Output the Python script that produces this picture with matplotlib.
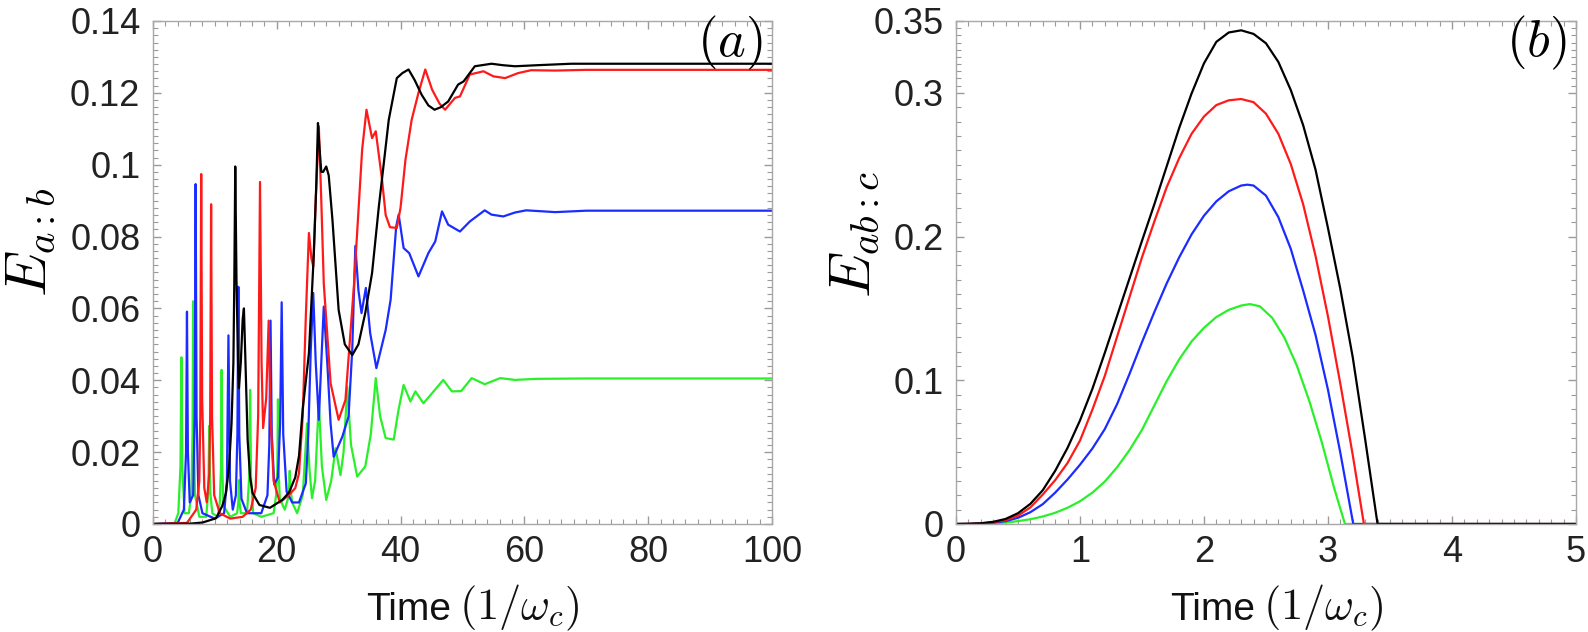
import numpy as np
import matplotlib
matplotlib.use("Agg")
import matplotlib.pyplot as plt
from matplotlib.ticker import FixedLocator, FuncFormatter

plt.rcParams['font.family'] = ['Liberation Sans', 'DejaVu Sans']
plt.rcParams['mathtext.fontset'] = 'cm'

# ---- panel (a): E_{a:b} vs time ----
green_t_a = [0, 3.5, 4.1, 4.45, 4.6, 4.75, 5.1, 5.8, 6.2, 6.4, 6.5, 6.6, 6.8, 7.5, 8.6, 8.95, 9.1, 9.25, 9.6,
             10.5, 10.8, 11.0, 11.1, 11.2, 11.4, 12.5, 13.6, 13.8, 13.9, 14.0, 14.2, 15.2, 15.55, 15.7, 15.85,
             16.2, 17.5, 19.5, 19.9, 20.1, 20.2, 20.3, 20.5, 21.3, 21.8, 22.0, 22.1, 22.2, 22.5, 23.3, 24.2,
             24.9, 25.3, 25.7, 26.2, 26.8, 27.3, 28.0, 28.8, 29.5, 30.3, 30.8, 31.4, 32.0, 33.0, 34.3, 35.2,
             36.0, 36.7, 37.6, 38.9, 39.7, 40.5, 41.6, 42.4, 43.7, 45.1, 46.9, 48.3, 49.8, 51.5, 53.6, 56.1,
             58.5, 62, 70, 100]
green_e_a = [0, 0.0002, 0.003, 0.016, 0.0464, 0.016, 0.003, 0.003, 0.008, 0.025, 0.062, 0.025, 0.008, 0.002,
             0.002, 0.009, 0.0273, 0.009, 0.003, 0.002, 0.006, 0.016, 0.0429, 0.016, 0.005, 0.002, 0.003,
             0.006, 0.0122, 0.006, 0.003, 0.003, 0.013, 0.0373, 0.013, 0.003, 0.002, 0.003, 0.008, 0.015,
             0.0347, 0.015, 0.007, 0.004, 0.007, 0.010, 0.0148, 0.010, 0.006, 0.003, 0.008, 0.028, 0.015,
             0.0072, 0.012, 0.0341, 0.016, 0.0067, 0.012, 0.0211, 0.0136, 0.020, 0.0382, 0.022, 0.0132,
             0.016, 0.025, 0.0406, 0.030, 0.0239, 0.0235, 0.032, 0.0387, 0.0341, 0.0369, 0.0336, 0.0364,
             0.0401, 0.0369, 0.0370, 0.0406, 0.0389, 0.0406, 0.0401, 0.0404, 0.0405, 0.0405]

blue_t_a = [0, 4.0, 5.0, 5.35, 5.5, 5.65, 5.95, 6.5, 6.75, 6.9, 7.05, 7.35, 8.0, 10.0, 11.5, 11.95, 12.2, 12.45,
            12.9, 13.4, 13.65, 13.8, 13.95, 14.3, 15.2, 17.5, 18.5, 18.8, 19.0, 19.2, 19.6, 20.2, 20.55, 20.8,
            21.05, 21.6, 22.5, 23.6, 24.7, 25.1, 25.5, 25.9, 26.3, 26.8, 27.2, 27.6, 28.2, 28.7, 29.2, 30.6,
            31.6, 32.2, 32.7, 33.2, 33.7, 34.4, 35.1, 36.1, 37.6, 38.4, 39.3, 39.7, 40.5, 41.4, 42.9, 44.5,
            45.6, 46.7, 47.7, 49.6, 51.2, 53.6, 54.7, 56.6, 58.5, 60.3, 65, 70, 100]
blue_e_a = [0, 0.0003, 0.004, 0.020, 0.0591, 0.020, 0.006, 0.008, 0.030, 0.0946, 0.030, 0.008, 0.003, 0.0015,
            0.003, 0.012, 0.0525, 0.012, 0.004, 0.008, 0.025, 0.066, 0.025, 0.007, 0.003, 0.003, 0.008, 0.022,
            0.0566, 0.025, 0.011, 0.013, 0.028, 0.0617, 0.025, 0.009, 0.006, 0.006, 0.0113, 0.025, 0.0485,
            0.0643, 0.045, 0.029, 0.045, 0.0605, 0.0438, 0.028, 0.0187, 0.0243, 0.0299, 0.0485, 0.0774, 0.065,
            0.0587, 0.0657, 0.0531, 0.0434, 0.054, 0.0624, 0.0828, 0.0861, 0.0768, 0.0754, 0.0689, 0.0754,
            0.0786, 0.087, 0.0833, 0.0814, 0.0842, 0.0873, 0.0861, 0.0856, 0.0867, 0.0873, 0.0868, 0.0872,
            0.0872]

red_t_a = [0, 5.5, 7.0, 7.5, 7.65, 7.8, 7.95, 8.3, 8.7, 9.1, 9.25, 9.4, 9.55, 9.9, 10.8, 12.5, 14.5, 15.8,
           16.6, 17.0, 17.3, 17.55, 17.8, 18.3, 18.7, 19.0, 19.5, 20.5, 22.0, 23.0, 23.6, 24.2, 24.7, 25.2,
           25.6, 25.9, 26.3, 26.8, 27.2, 27.6, 28.7, 30.0, 31.1, 32.5, 33.8, 34.5, 35.4, 36.0, 37.0, 37.6,
           38.3, 39.4, 40.0, 40.8, 41.8, 42.9, 44.0, 45.1, 46.3, 47.2, 48.8, 49.6, 51.2, 53.4, 55.0, 56.9,
           59.0, 61.1, 65, 70, 100]
red_e_a = [0, 0.0003, 0.004, 0.012, 0.030, 0.0974, 0.035, 0.010, 0.006, 0.014, 0.030, 0.089, 0.030, 0.008,
           0.003, 0.0015, 0.002, 0.004, 0.010, 0.030, 0.0952, 0.045, 0.0267, 0.035, 0.0566, 0.030, 0.012,
           0.006, 0.0081, 0.010, 0.0141, 0.030, 0.0577, 0.081, 0.074, 0.0717, 0.090, 0.1107, 0.090, 0.067,
           0.0392, 0.029, 0.0345, 0.067, 0.1042, 0.1153, 0.1074, 0.1093, 0.096, 0.086, 0.0826, 0.0824, 0.088,
           0.1014, 0.1125, 0.120, 0.1265, 0.1209, 0.117, 0.1153, 0.1186, 0.119, 0.1251, 0.126, 0.1246,
           0.1241, 0.1255, 0.1263, 0.1262, 0.1264, 0.1264]

black_t_a = [0, 6, 8, 10.2, 11.2, 11.8, 12.3, 12.7, 13.0, 13.15, 13.3, 13.5, 13.75, 13.9, 14.2, 14.5, 14.7,
             14.95, 15.3, 15.7, 16.1, 17.2, 18.9, 20.9, 22.0, 23.0, 23.6, 24.2, 25.2, 26.0, 26.4, 26.66, 26.9,
             27.2, 27.5, 28.0, 28.4, 29.0, 30.0, 31.0, 32.2, 33.2, 34.3, 35.4, 36.5, 38.1, 39.4, 40.3, 41.3,
             42.3, 43.4, 44.5, 45.5, 46.5, 47.7, 49.3, 50.2, 52.0, 54.7, 56.5, 58.5, 62.2, 67.6, 100]
black_e_a = [0, 0.0001, 0.0004, 0.0016, 0.005, 0.0086, 0.016, 0.028, 0.045, 0.068, 0.0995, 0.068, 0.045,
             0.0378, 0.045, 0.057, 0.060, 0.045, 0.0234, 0.013, 0.0086, 0.0053, 0.0045, 0.0067, 0.0088, 0.013,
             0.019, 0.032, 0.0475, 0.0754, 0.095, 0.1116, 0.105, 0.098, 0.098, 0.0995, 0.097, 0.0847, 0.0596,
             0.050, 0.047, 0.050, 0.0587, 0.0698, 0.0884, 0.1125, 0.1241, 0.1255, 0.1265, 0.1235, 0.1195,
             0.1165, 0.1153, 0.116, 0.1176, 0.1223, 0.1232, 0.1274, 0.1281, 0.1277, 0.1274, 0.1277, 0.1281,
             0.1281]

# ---- panel (b): E_{ab:c} vs time ----
green_t_b = [0, 0.2, 0.3, 0.4, 0.5, 0.6, 0.7, 0.8, 0.9, 1.0, 1.1, 1.2, 1.3, 1.4, 1.5, 1.6, 1.7, 1.8, 1.9,
             2.0, 2.1, 2.2, 2.3, 2.37, 2.45, 2.55, 2.65, 2.75, 2.85, 2.95, 3.05, 3.137, 5.0]
green_e_b = [0, 0.0001, 0.0004, 0.001, 0.002, 0.0033, 0.0052, 0.0078, 0.0113, 0.0158, 0.0218, 0.0295, 0.0395,
             0.0515, 0.0655, 0.0825, 0.0995, 0.1145, 0.127, 0.1365, 0.144, 0.149, 0.152, 0.153, 0.1515, 0.1435,
             0.1295, 0.110, 0.0855, 0.057, 0.025, 0, 0]

blue_t_b = [0, 0.1, 0.2, 0.3, 0.4, 0.5, 0.6, 0.7, 0.8, 0.9, 1.0, 1.1, 1.2, 1.3, 1.4, 1.5, 1.6, 1.7, 1.8,
            1.9, 2.0, 2.1, 2.2, 2.3, 2.35, 2.4, 2.5, 2.6, 2.7, 2.8, 2.9, 3.0, 3.1, 3.204, 5.0]
blue_e_b = [0, 0.0001, 0.0003, 0.0009, 0.002, 0.0043, 0.0082, 0.0138, 0.0218, 0.031, 0.0412, 0.0525, 0.066,
            0.0835, 0.1045, 0.1265, 0.1475, 0.1675, 0.1855, 0.2015, 0.2145, 0.2245, 0.2315, 0.2355, 0.2361,
            0.2355, 0.2285, 0.2135, 0.1915, 0.1625, 0.1315, 0.0935, 0.0495, 0, 0]

red_t_b = [0, 0.1, 0.2, 0.3, 0.4, 0.5, 0.6, 0.7, 0.8, 0.9, 1.0, 1.1, 1.2, 1.3, 1.4, 1.5, 1.6, 1.7, 1.8,
           1.9, 2.0, 2.1, 2.2, 2.3, 2.4, 2.5, 2.6, 2.7, 2.8, 2.9, 3.0, 3.1, 3.2, 3.29, 5.0]
red_e_b = [0, 0.0001, 0.0004, 0.0012, 0.0027, 0.0058, 0.0115, 0.0205, 0.0305, 0.0425, 0.058, 0.0795, 0.103,
           0.1305, 0.158, 0.1855, 0.2105, 0.2345, 0.2545, 0.2715, 0.2835, 0.2915, 0.2948, 0.2957, 0.2935,
           0.2855, 0.2715, 0.2505, 0.2225, 0.1865, 0.1445, 0.0975, 0.048, 0, 0]

black_t_b = [0, 0.1, 0.2, 0.3, 0.4, 0.5, 0.6, 0.7, 0.8, 0.9, 1.0, 1.1, 1.2, 1.3, 1.4, 1.5, 1.6, 1.7, 1.8,
             1.9, 2.0, 2.1, 2.2, 2.3, 2.4, 2.5, 2.6, 2.7, 2.8, 2.9, 3.0, 3.1, 3.2, 3.3, 3.4, 5.0]
black_e_b = [0, 0.0001, 0.0005, 0.0015, 0.0035, 0.0075, 0.014, 0.0235, 0.037, 0.053, 0.072, 0.094, 0.119,
             0.145, 0.171, 0.197, 0.2225, 0.249, 0.2755, 0.2995, 0.3205, 0.3355, 0.342, 0.3435, 0.341, 0.3345,
             0.3215, 0.302, 0.2775, 0.2465, 0.206, 0.1635, 0.116, 0.059, 0, 0]

colors = {'green': '#2af02a', 'blue': '#1a2cff', 'red': '#ff1a1a', 'black': '#000000'}


def style_axes(ax, xmaj, xmin, ymaj, ymin):
    ax.xaxis.set_major_locator(FixedLocator(xmaj))
    ax.xaxis.set_minor_locator(FixedLocator(xmin))
    ax.yaxis.set_major_locator(FixedLocator(ymaj))
    ax.yaxis.set_minor_locator(FixedLocator(ymin))
    fmt = FuncFormatter(lambda v, p: '%g' % round(v, 4))
    ax.xaxis.set_major_formatter(fmt)
    ax.yaxis.set_major_formatter(fmt)
    ax.tick_params(which='both', direction='in', top=True, right=True,
                   color='#9a9a9a', labelcolor='#222222', labelsize=26)
    ax.tick_params(which='major', length=6, width=1.0)
    ax.tick_params(which='minor', length=3.5, width=0.8)
    ax.tick_params(axis='x', pad=8)
    ax.tick_params(axis='y', pad=9)
    for s in ax.spines.values():
        s.set_color('#a8a8a8')
        s.set_linewidth(1.0)


fig = plt.figure(figsize=(15.88, 6.32), dpi=100)
ax1 = fig.add_axes([0.0963, 0.1709, 0.3898, 0.7959])
ax2 = fig.add_axes([0.602, 0.1709, 0.3904, 0.7959])

lw = 1.6
ax1.plot(green_t_a, green_e_a, color=colors['green'], lw=lw)
ax1.plot(blue_t_a, blue_e_a, color=colors['blue'], lw=lw)
ax1.plot(red_t_a, red_e_a, color=colors['red'], lw=lw)
ax1.plot(black_t_a, black_e_a, color=colors['black'], lw=lw)
ax1.set_xlim(0, 100)
ax1.set_ylim(0, 0.14)
style_axes(ax1, np.arange(0, 101, 20), np.arange(0, 101, 2),
           np.arange(0, 0.141, 0.02), np.arange(0, 0.141, 0.002))

ax2.plot(green_t_b, green_e_b, color=colors['green'], lw=lw)
ax2.plot(blue_t_b, blue_e_b, color=colors['blue'], lw=lw)
ax2.plot(red_t_b, red_e_b, color=colors['red'], lw=lw)
ax2.plot(black_t_b, black_e_b, color=colors['black'], lw=lw)
ax2.set_xlim(0, 5)
ax2.set_ylim(0, 0.35)
yminor_b = list(np.arange(0, 0.30, 0.01)) + list(np.arange(0.30, 0.351, 0.005))
style_axes(ax2, np.arange(0, 5.01, 1), np.arange(0, 5.01, 0.1),
           [0, 0.1, 0.2, 0.3, 0.35], yminor_b)

# axis labels
ax1.set_ylabel(r'$E_{a:b}$', fontsize=42, rotation=90, va='center')
ax1.yaxis.set_label_coords(-0.197, 0.56)
ax2.set_ylabel(r'$E_{ab:c}$', fontsize=42, rotation=90, va='center')
ax2.yaxis.set_label_coords(-0.163, 0.575)

# "Time" in sans, the unit in a slightly larger math serif, as in the original
for ax in (ax1, ax2):
    ax.text(0.482, -0.19, 'Time', transform=ax.transAxes, ha='right', va='baseline',
            fontsize=28, color='#111111')
    ax.text(0.495, -0.19, r'$(1/\omega_c)$', transform=ax.transAxes, ha='left', va='baseline',
            fontsize=32, color='#111111')

ax1.text(0.985, 1.015, r'$(a)$', transform=ax1.transAxes, ha='right', va='top', fontsize=38)
ax2.text(0.985, 1.015, r'$(b)$', transform=ax2.transAxes, ha='right', va='top', fontsize=38)

plt.savefig('out.png', dpi=100)
